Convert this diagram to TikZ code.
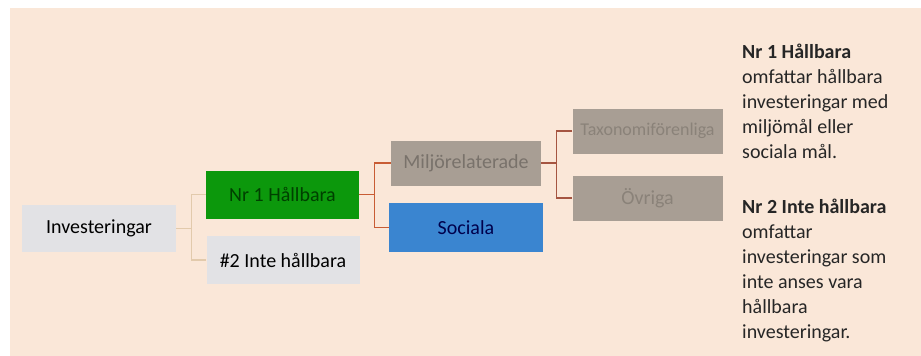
\documentclass[tikz,border=0pt]{standalone}
\usepackage{fontspec}
\setmainfont{Carlito}
\usepackage{tikz}
\definecolor{peach}{RGB}{250,231,216}
\definecolor{lightbox}{RGB}{226,226,229}
\definecolor{greenbox}{RGB}{12,152,12}
\definecolor{bluebox}{RGB}{58,133,208}
\definecolor{greybox}{RGB}{168,158,148}
\definecolor{linktan}{RGB}{226,202,172}
\definecolor{linkred}{RGB}{200,92,52}
\definecolor{linkbrown}{RGB}{165,85,65}

\begin{document}
\begin{tikzpicture}[x=1pt,y=-1pt,
  box/.style={minimum width=153pt,minimum height=48pt,inner sep=0pt,font=\fontsize{20}{25}\selectfont},
  fadedbox/.style={box,fill=greybox,text=greybox!82!black,minimum height=45pt,minimum width=150pt},
  link/.style={line width=1.4pt},
  note/.style={anchor=base west,align=left,inner sep=0pt,text=black!85,font=\fontsize{20}{25}\selectfont}]
\useasboundingbox (0,0) rectangle (921,356);
\fill[white] (0,0) rectangle (921,356);
\fill[peach] (10,8) rectangle (921,356);
\node[box,fill=lightbox,minimum width=154pt,minimum height=47pt] (inv) at (99,228.5) {Investeringar};
\node[box,fill=greenbox,text=green!25!black] (nr1) at (282.5,194.5) {Nr 1 Hållbara};
\node[box,fill=lightbox] (nr2) at (283,260) {\#2 Inte hållbara};
\node[fadedbox,text=greybox!72!black] (milj) at (466,163) {Miljörelaterade};
\node[box,fill=bluebox,text=blue!30!black,minimum width=154pt,minimum height=49pt] (soc) at (466,227.5) {Sociala};
\node[fadedbox,font=\fontsize{18}{22}\selectfont] (taxo) at (647.5,131) {Taxonomiförenliga};
\node[fadedbox] (ovr) at (647.5,198) {Övriga};
\coordinate (j1) at ([xshift=15pt]inv.east);
\coordinate (j2) at ([xshift=15pt]nr1.east);
\coordinate (j3) at ([xshift=15pt]milj.east);
\draw[link,linktan] (inv.east) -- (j1) (nr1.west) -| (j1) |- (nr2.west);
\draw[link,linkred] (nr1.east) -- (j2) (milj.west) -| (j2) |- (soc.west);
\draw[link,linkbrown] (milj.east) -- (j3) (taxo.west) -| (j3) |- (ovr.west);
\node[note] (t1) at (742,158) {\textbf{Nr 1 Hållbara}\\omfattar hållbara\\investeringar med\\miljömål eller\\sociala mål.};
\node[note] (t2) at (742,338) {\textbf{Nr 2 Inte hållbara}\\omfattar\\investeringar som\\inte anses vara\\hållbara\\investeringar.};
\end{tikzpicture}
\end{document}
